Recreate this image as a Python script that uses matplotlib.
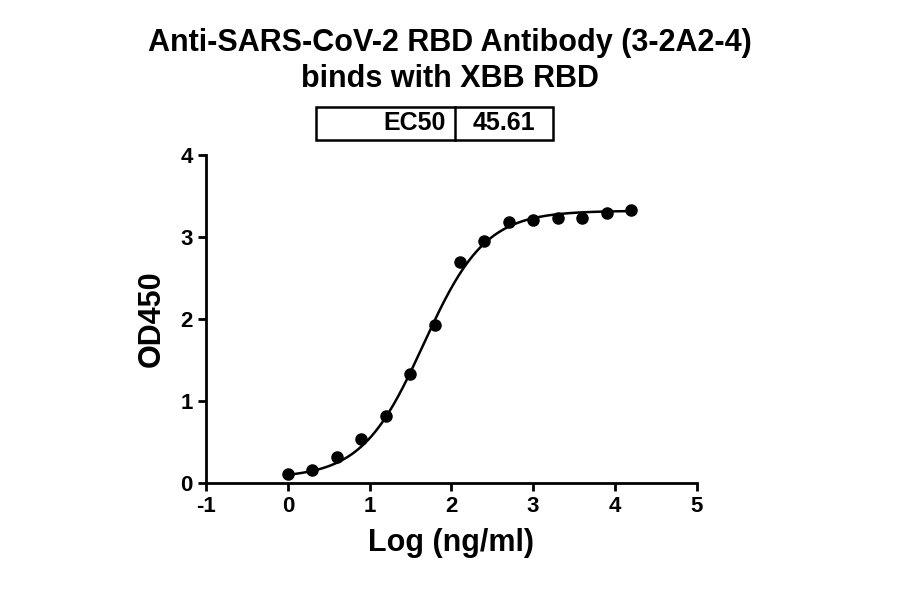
import numpy as np
import matplotlib
matplotlib.use("Agg")
import matplotlib.pyplot as plt
from matplotlib.patches import Rectangle

log_conc = [0, 0.3, 0.6, 0.9, 1.2, 1.5, 1.8, 2.1, 2.4, 2.7, 3.0, 3.3, 3.6, 3.9, 4.2]
od450 = [0.11, 0.16, 0.32, 0.53, 0.82, 1.33, 1.93, 2.70, 2.95, 3.18, 3.21, 3.23, 3.23, 3.29, 3.33]
ec50 = 45.61
bottom, top, hill = 0.06, 3.32, 1.15

plt.rcParams['font.family'] = ['Liberation Sans', 'DejaVu Sans']
plt.rcParams['font.weight'] = 'bold'
plt.rcParams['axes.unicode_minus'] = False
fig = plt.figure(figsize=(9, 5.94), dpi=100)
ax = fig.add_axes([0.229, 0.187, 0.545, 0.552])

xs = np.linspace(0, 4.2, 300)
ys = bottom + (top - bottom) / (1 + 10 ** ((np.log10(ec50) - xs) * hill))
ax.plot(xs, ys, color='black', lw=1.8)
ax.plot(log_conc, od450, 'o', color='black', ms=8)

ax.set_xlim(-1, 5)
ax.set_ylim(0, 4)
ax.set_xticks(range(-1, 6))
ax.set_yticks(range(0, 5))
for s in ['top', 'right']:
    ax.spines[s].set_visible(False)
for s in ['left', 'bottom']:
    ax.spines[s].set_linewidth(2)
ax.tick_params(width=2, length=6, labelsize=16)
for lab in ax.get_xticklabels() + ax.get_yticklabels():
    lab.set_fontweight('bold')
ax.set_xlabel('Log (ng/ml)', fontsize=22, fontweight='bold', labelpad=8)
ax.set_ylabel('OD450', fontsize=22, fontweight='bold', labelpad=10)

fig.text(0.5, 1 - 61/594, 'Anti-SARS-CoV-2 RBD Antibody (3-2A2-4)\nbinds with XBB RBD',
         ha='center', va='center', fontsize=22, fontweight='bold', linespacing=1.25)

x0, x1, xm = 316/900, 553/900, 455/900
y0, y1 = 1 - 140/594, 1 - 107/594
fig.add_artist(Rectangle((x0, y0), x1 - x0, y1 - y0, transform=fig.transFigure,
                         fill=False, lw=1.8, color='black'))
fig.add_artist(plt.Line2D([xm, xm], [y0, y1], transform=fig.transFigure, lw=1.8, color='black'))
fig.text(xm - 0.01, (y0 + y1) / 2, 'EC50', ha='right', va='center', fontsize=18, fontweight='bold')
fig.text((xm + x1) / 2, (y0 + y1) / 2, f'{ec50:.2f}', ha='center', va='center', fontsize=18, fontweight='bold')

fig.savefig('out.png', dpi=100)
